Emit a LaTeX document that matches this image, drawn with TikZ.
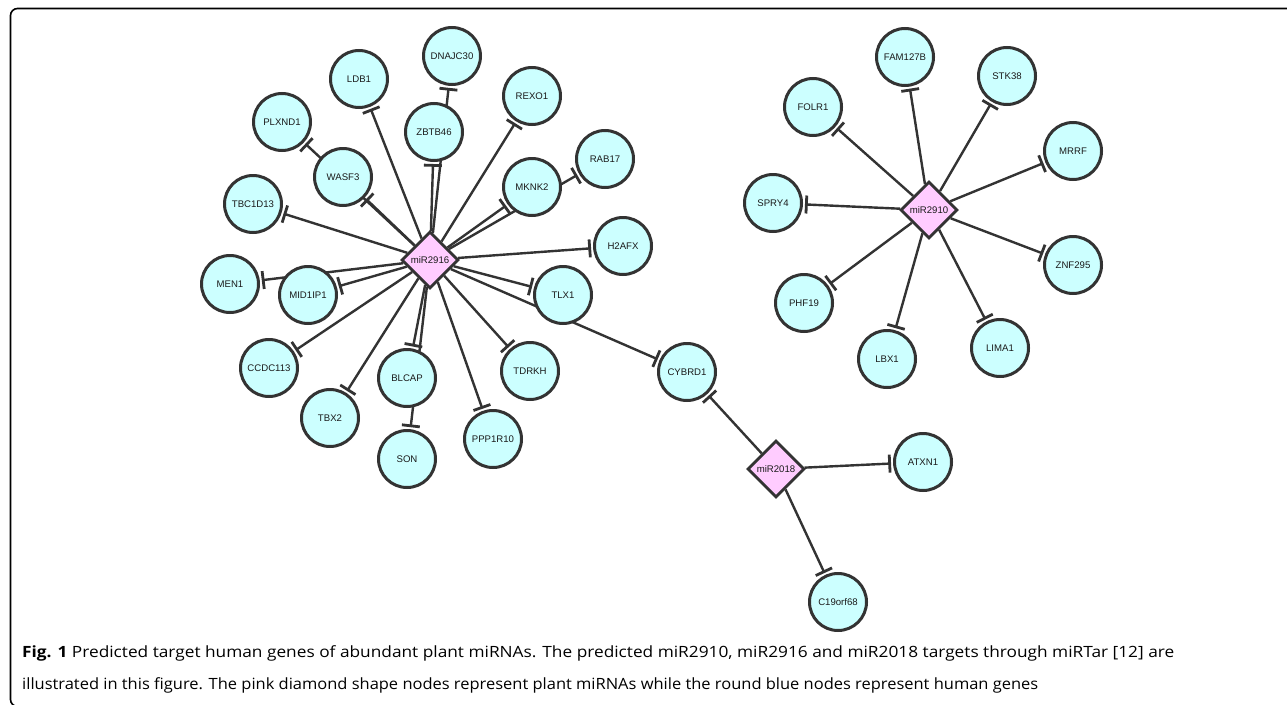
\documentclass[tikz,border=0pt]{standalone}
\usepackage{fontspec}
\setmainfont{Liberation Sans}
\newfontfamily\capfont{Open Sans}
\usetikzlibrary{arrows.meta,shapes.geometric,backgrounds}
\definecolor{genefill}{HTML}{CCFFFF}
\definecolor{mirfill}{HTML}{FFCCFF}
\definecolor{linecol}{HTML}{333333}
\definecolor{txtcol}{HTML}{1A1A1A}
\begin{document}
\begin{tikzpicture}[x=1pt,y=-1pt,
  gene/.style={circle, draw=linecol, line width=3pt, fill=genefill, minimum size=57pt, inner sep=0pt, text=txtcol, font=\fontsize{9.6}{11}\selectfont},
  mir/.style={diamond, draw=linecol, line width=2.8pt, fill=mirfill, minimum width=57pt, minimum height=57pt, inner sep=0pt, text=txtcol, font=\fontsize{9.6}{11}\selectfont},
  inh/.style={draw=linecol, line width=2.4pt, -{Bar[width=18pt,line width=2.8pt]}, shorten >=2pt},
  captext/.style={anchor=base west, inner sep=0pt, text=black}]
\useasboundingbox (0,0) rectangle (1287,704);
% frame
\draw[line width=1.6pt, rounded corners=7pt] (1295,8.5) -- (10.5,8.5) -- (10.5,706.5) -- (40,706.5);
% miR2916 cluster
\node[mir] (m16) at (430,260) {miR2916};
\node[gene] (DNAJC30) at (452,56) {DNAJC30};
\node[gene] (LDB1) at (359,79) {LDB1};
\node[gene] (REXO1) at (532,96) {REXO1};
\node[gene] (PLXND1) at (282,122) {PLXND1};
\node[gene] (ZBTB46) at (434,132) {ZBTB46};
\node[gene] (WASF3) at (343,177) {WASF3};
\node[gene] (MKNK2) at (532,187) {MKNK2};
\node[gene] (RAB17) at (605,159) {RAB17};
\node[gene] (TBC1D13) at (253,204) {TBC1D13};
\node[gene] (H2AFX) at (623,246) {H2AFX};
\node[gene] (MEN1) at (230,284) {MEN1};
\node[gene] (MID1IP1) at (308,295) {MID1IP1};
\node[gene] (TLX1) at (563,295) {TLX1};
\node[gene] (CCDC113) at (269,368) {CCDC113};
\node[gene] (TDRKH) at (530,371) {TDRKH};
\node[gene] (BLCAP) at (407,378) {BLCAP};
\node[gene] (CYBRD1) at (687,372) {CYBRD1};
\node[gene] (TBX2) at (330,418) {TBX2};
\node[gene] (SON) at (407,459) {SON};
\node[gene] (PPP1R10) at (493,439) {PPP1R10};
% miR2910 cluster
\node[mir] (m10) at (929,210) {miR2910};
\node[gene] (FAM127B) at (905,57) {FAM127B};
\node[gene] (STK38) at (1007,76) {STK38};
\node[gene] (FOLR1) at (813,107) {FOLR1};
\node[gene] (MRRF) at (1073,151) {MRRF};
\node[gene] (SPRY4) at (773,203) {SPRY4};
\node[gene] (ZNF295) at (1073,265) {ZNF295};
\node[gene] (PHF19) at (804,303) {PHF19};
\node[gene] (LBX1) at (887,359) {LBX1};
\node[gene] (LIMA1) at (1000,348) {LIMA1};
% miR2018 cluster
\node[mir] (m18) at (776,469) {miR2018};
\node[gene] (ATXN1) at (923,462) {ATXN1};
\node[gene] (C19orf68) at (838,602) {C19orf68};
% edges
\begin{scope}[on background layer]
\foreach \t in {DNAJC30,LDB1,REXO1,PLXND1,ZBTB46,WASF3,MKNK2,RAB17,TBC1D13,H2AFX,MEN1,MID1IP1,TLX1,CCDC113,TDRKH,BLCAP,CYBRD1,TBX2,SON,PPP1R10}
  \draw[inh] (m16) -- (\t);
\foreach \t in {FAM127B,STK38,FOLR1,MRRF,SPRY4,ZNF295,PHF19,LBX1,LIMA1}
  \draw[inh] (m10) -- (\t);
\foreach \t in {CYBRD1,ATXN1,C19orf68}
  \draw[inh] (m18) -- (\t);
\end{scope}
% caption
\node[captext] (cap1) at (22,657) {\resizebox{1152pt}{\height}{\capfont\fontsize{15.5}{18}\selectfont\textbf{Fig. 1} Predicted target human genes of abundant plant miRNAs. The predicted miR2910, miR2916 and miR2018 targets through miRTar [12] are}};
\node[captext] (cap2) at (22,689) {\resizebox{1016pt}{\height}{\capfont\fontsize{15.5}{18}\selectfont illustrated in this figure. The pink diamond shape nodes represent plant miRNAs while the round blue nodes represent human genes}};
\end{tikzpicture}
\end{document}
